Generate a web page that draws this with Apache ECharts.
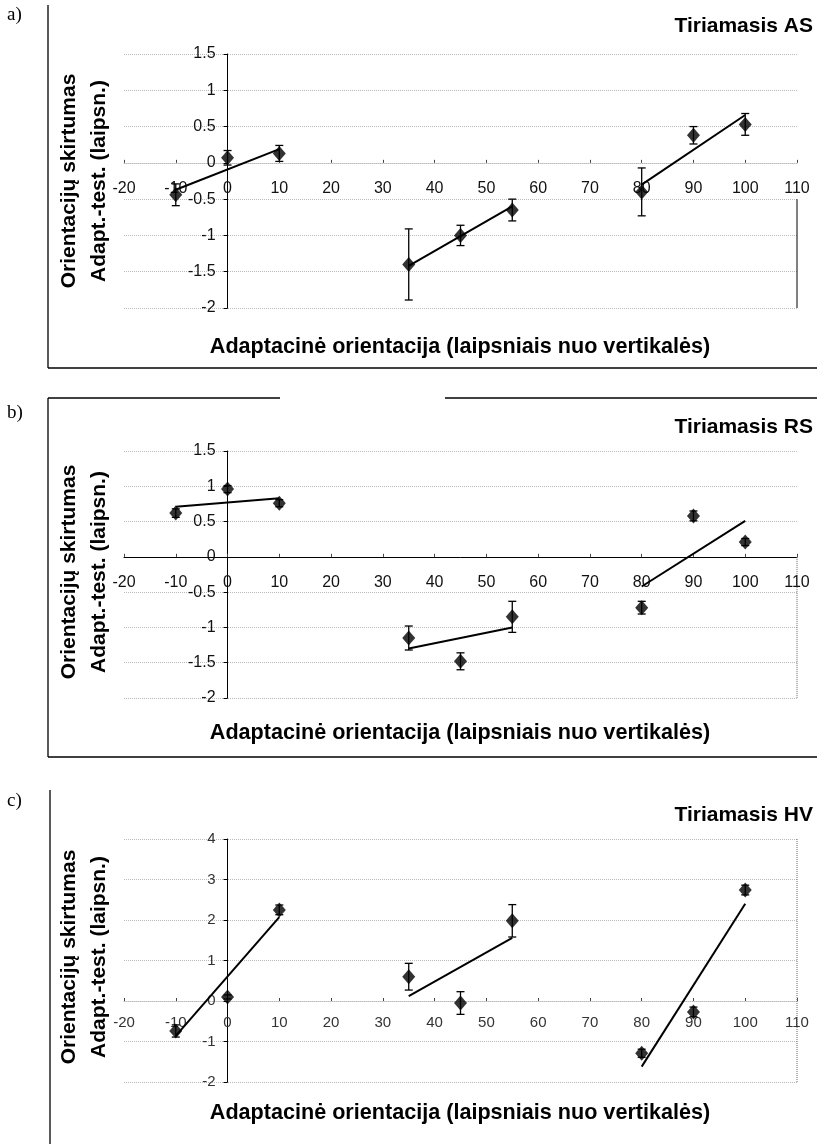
<!DOCTYPE html>
<html>
<head>
<meta charset="utf-8">
<script src="https://cdn.jsdelivr.net/npm/echarts@6/dist/echarts.min.js"></script>
<style>
html,body{margin:0;padding:0;background:#fff;}
#chart{width:817px;height:1144px;}
</style>
</head>
<body>
<div id="chart"></div>
<script>
// ---- data ----
var xOrient = [-10, 0, 10, 35, 45, 55, 80, 90, 100];

var yAS = [-0.44, 0.07, 0.13, -1.4, -1.0, -0.65, -0.4, 0.38, 0.53];
var errAS = [0.15, 0.1, 0.11, 0.49, 0.14, 0.15, 0.33, 0.12, 0.15];
var trendAS = [
  [[-10, -0.37], [10, 0.19]],
  [[35, -1.42], [55, -0.6]],
  [[80, -0.3], [100, 0.66]]
];

var yRS = [0.62, 0.96, 0.76, -1.15, -1.48, -0.85, -0.72, 0.58, 0.21];
var errRS = [0.06, 0.05, 0.05, 0.17, 0.12, 0.22, 0.09, 0.07, 0.05];
var trendRS = [
  [[-10, 0.71], [10, 0.83]],
  [[35, -1.3], [55, -1.0]],
  [[80, -0.42], [100, 0.51]]
];

var yHV = [-0.74, 0.1, 2.25, 0.6, -0.05, 1.98, -1.29, -0.27, 2.74];
var errHV = [0.15, 0.05, 0.12, 0.33, 0.28, 0.4, 0.1, 0.12, 0.12];
var trendHV = [
  [[-10, -0.86], [10, 2.07]],
  [[35, 0.12], [55, 1.56]],
  [[80, -1.62], [100, 2.4]]
];

// right-edge border fragments seen in the panels (x, y from, y to)
var edgeAS = [[110, -0.5], [110, -2]];
var edgeRS = [[110, 0], [110, -2]];
var edgeHV = [[110, 4], [110, -2]];

var panelTitles = ['Tiriamasis AS', 'Tiriamasis RS', 'Tiriamasis HV'];
var panelLetters = ['a)', 'b)', 'c)'];
var xTitle = 'Adaptacinė orientacija (laipsniais nuo vertikalės)';
var yTitle1 = 'Orientacijų skirtumas';
var yTitle2 = 'Adapt.-test. (laipsn.)';

// ---- layout ----
var xRange = {min: -20, max: 110, interval: 10};
var grids = [
  {left: 124, width: 673, top: 54, height: 254},
  {left: 124, width: 673, top: 451, height: 247},
  {left: 124, width: 673, top: 839, height: 243}
];
var yRanges = [
  {min: -2, max: 1.5, interval: 0.5},
  {min: -2, max: 1.5, interval: 0.5},
  {min: -2, max: 4, interval: 1}
];
var panels = [
  {y: yAS, err: errAS, trend: trendAS, edge: edgeAS, edgeStyle: {color: '#000', type: 'solid', width: 1}},
  {y: yRS, err: errRS, trend: trendRS, edge: edgeRS, edgeStyle: {color: '#666', type: 'dotted', width: 1}},
  {y: yHV, err: errHV, trend: trendHV, edge: edgeHV, edgeStyle: {color: '#666', type: 'dotted', width: 1}}
];
var font = '"Liberation Sans", Arial, sans-serif';

var xAxes = [], yAxes = [], series = [];
grids.forEach(function (g, i) {
  var solidX = (i === 1);
  var r = yRanges[i];
  // place each axis through the origin of the other one
  var xAxisOffset = -(0 - r.min) / (r.max - r.min) * g.height;
  var yAxisOffset = -(0 - xRange.min) / (xRange.max - xRange.min) * g.width;
  var fs = i === 2 ? 15 : 16;
  xAxes.push({
    type: 'value', gridIndex: i, min: xRange.min, max: xRange.max, interval: xRange.interval,
    position: 'bottom', offset: xAxisOffset,
    axisLine: {onZero: false, lineStyle: {color: solidX ? '#000' : '#bbb', width: 1, type: solidX ? 'solid' : 'dotted'}},
    axisTick: {show: true, length: 3, inside: true, lineStyle: {color: '#444'}},
    axisLabel: {margin: i === 2 ? 14 : 18, fontSize: fs, color: i === 2 ? '#333' : '#111', fontFamily: font},
    splitLine: {show: false}
  });
  yAxes.push({
    type: 'value', gridIndex: i, min: r.min, max: r.max, interval: r.interval,
    position: 'left', offset: yAxisOffset,
    axisLine: {onZero: false, lineStyle: {color: '#000', width: 1}},
    axisTick: {show: true, length: 4, lineStyle: {color: '#000'}},
    axisLabel: {margin: 12, fontSize: fs, color: i === 2 ? '#333' : '#111', fontFamily: font},
    splitLine: {show: true, lineStyle: {color: '#bbb', type: 'dotted', width: 1}}
  });
  var p = panels[i];
  var errData = xOrient.map(function (x, k) { return [x, p.y[k], p.err[k]]; });
  series.push({
    type: 'custom', xAxisIndex: i, yAxisIndex: i, z: 2,
    data: errData,
    renderItem: function (params, api) {
      var x = api.value(0), y = api.value(1), e = api.value(2);
      var top = api.coord([x, y + e]);
      var bot = api.coord([x, y - e]);
      var cap = 4;
      var st = {stroke: '#000', lineWidth: 1.3};
      return {
        type: 'group',
        children: [
          {type: 'line', shape: {x1: top[0], y1: top[1], x2: bot[0], y2: bot[1]}, style: st},
          {type: 'line', shape: {x1: top[0] - cap, y1: top[1], x2: top[0] + cap, y2: top[1]}, style: st},
          {type: 'line', shape: {x1: bot[0] - cap, y1: bot[1], x2: bot[0] + cap, y2: bot[1]}, style: st}
        ]
      };
    }
  });
  p.trend.forEach(function (seg) {
    series.push({
      type: 'line', xAxisIndex: i, yAxisIndex: i, z: 3,
      data: seg, symbol: 'none', silent: true,
      lineStyle: {color: '#000', width: 2}
    });
  });
  series.push({
    type: 'line', xAxisIndex: i, yAxisIndex: i, z: 1,
    data: p.edge, symbol: 'none', silent: true,
    lineStyle: p.edgeStyle
  });
  series.push({
    type: 'scatter', xAxisIndex: i, yAxisIndex: i, z: 4,
    symbol: 'diamond', symbolSize: [13, 15],
    itemStyle: {color: '#000'},
    data: xOrient.map(function (x, k) { return [x, p.y[k]]; })
  });
});

// ---- text & frames ----
var graphic = [];
var titleY = [26, 427, 815];
var letterY = [15, 413, 801];
var yTitleCY = [181, 572, 957];
var xTitleY = [347, 733, 1113];
for (var i = 0; i < 3; i++) {
  graphic.push({type: 'text', x: 813, y: titleY[i],
    style: {text: panelTitles[i], font: 'bold 21px ' + font, fill: '#000', textAlign: 'right', textVerticalAlign: 'middle'}});
  graphic.push({type: 'text', x: 7, y: letterY[i], style: {text: panelLetters[i], font: '19px "Liberation Serif", "Times New Roman", serif', fill: '#000', textVerticalAlign: 'middle'}});
  graphic.push({type: 'text', x: 69, y: yTitleCY[i], rotation: Math.PI / 2,
    style: {text: yTitle1, font: 'bold 21px ' + font, fill: '#000', textAlign: 'center', textVerticalAlign: 'middle'}});
  graphic.push({type: 'text', x: 99, y: yTitleCY[i], rotation: Math.PI / 2,
    style: {text: yTitle2, font: 'bold 21px ' + font, fill: '#000', textAlign: 'center', textVerticalAlign: 'middle'}});
  graphic.push({type: 'text', x: 460, y: xTitleY[i],
    style: {text: xTitle, font: 'bold 21.6px ' + font, fill: '#000', textAlign: 'center', textVerticalAlign: 'middle'}});
}
var frame = [
  [48, 5, 48, 368], [48, 368, 817, 368],
  [48, 398, 280, 398], [445, 398, 817, 398], [48, 398, 48, 757], [48, 757, 817, 757],
  [50, 790, 50, 1144]
];
frame.forEach(function (f) {
  graphic.push({type: 'line', shape: {x1: f[0], y1: f[1], x2: f[2], y2: f[3]}, style: {stroke: '#000', lineWidth: 1.3}});
});

var chart = echarts.init(document.getElementById('chart'), null, {renderer: 'canvas'});
chart.setOption({
  animation: false,
  backgroundColor: '#fff',
  grid: grids,
  xAxis: xAxes,
  yAxis: yAxes,
  series: series,
  graphic: graphic
});
</script>
</body>
</html>
